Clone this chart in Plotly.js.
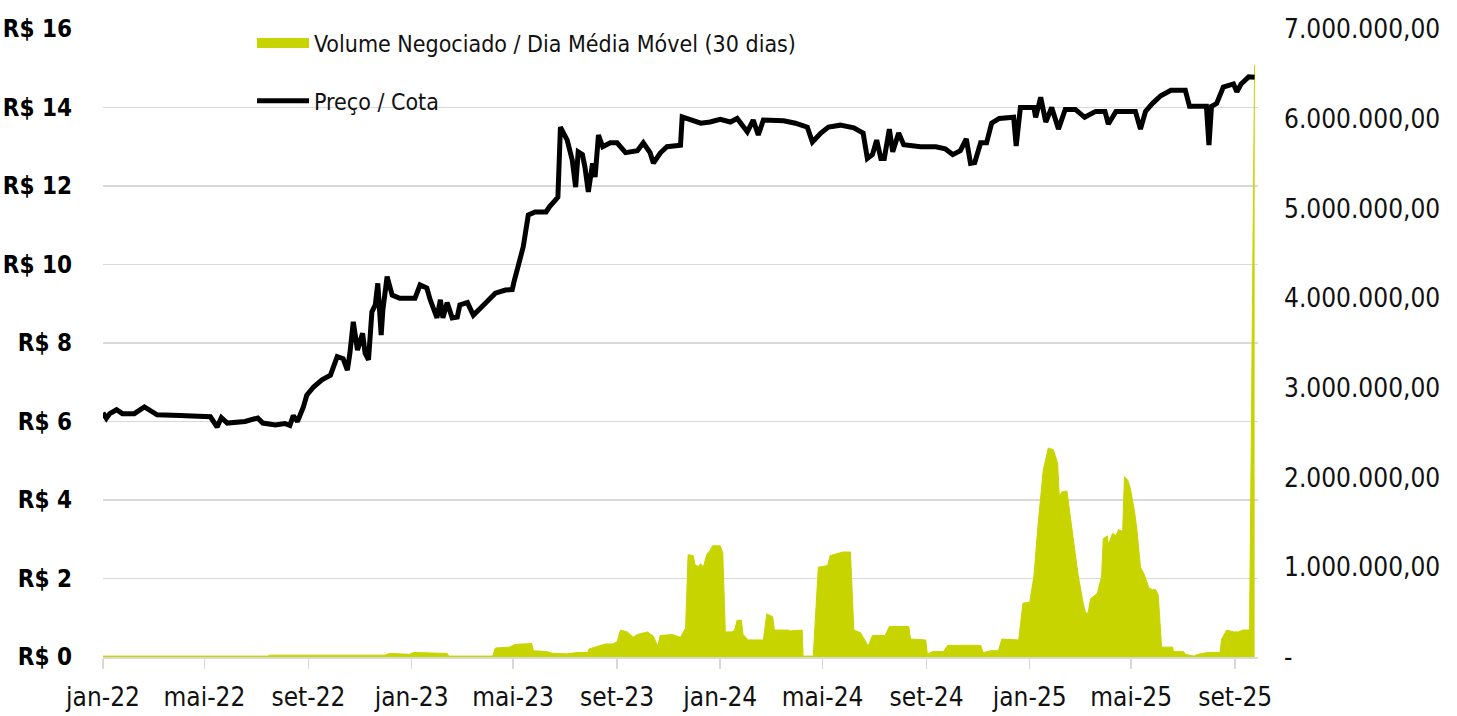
<!DOCTYPE html>
<html>
<head>
<meta charset="utf-8">
<script src="https://cdn.plot.ly/plotly-3.0.1.min.js"></script>
<style>
  html, body { margin: 0; padding: 0; background: #ffffff; }
  #chart { width: 1457px; height: 716px; }
</style>
</head>
<body>
<div id="chart"></div>
<script>
// ---- Data ----
const priceName = "Preço / Cota";
const volumeName = "Volume Negociado / Dia Média Móvel (30 dias)";

const priceDates = [
  "2022-01-01","2022-01-05","2022-01-09","2022-01-17","2022-01-24","2022-02-07","2022-02-19","2022-03-06",
  "2022-04-02","2022-05-08","2022-05-16","2022-05-21","2022-05-28","2022-06-18","2022-07-03","2022-07-09",
  "2022-07-24","2022-08-04","2022-08-10","2022-08-14","2022-08-19","2022-08-26","2022-08-30","2022-09-07",
  "2022-09-17","2022-09-27","2022-10-05","2022-10-12","2022-10-17","2022-10-20","2022-10-24","2022-10-29",
  "2022-11-04","2022-11-07","2022-11-11","2022-11-15","2022-11-19","2022-11-22","2022-11-26","2022-11-28",
  "2022-12-03","2022-12-09","2022-12-18","2023-01-05","2023-01-11","2023-01-19","2023-01-23","2023-01-31",
  "2023-02-04","2023-02-07","2023-02-12","2023-02-18","2023-02-24","2023-02-27","2023-03-08","2023-03-15",
  "2023-03-23","2023-03-31","2023-04-10","2023-04-22","2023-04-30","2023-05-02","2023-05-07","2023-05-13",
  "2023-05-19","2023-05-27","2023-06-09","2023-06-13","2023-06-20","2023-06-23","2023-06-26","2023-07-04",
  "2023-07-10","2023-07-14","2023-07-17","2023-07-22","2023-07-25","2023-07-29","2023-08-03","2023-08-06",
  "2023-08-10","2023-08-15","2023-08-24","2023-09-01","2023-09-11","2023-09-25","2023-10-02","2023-10-10",
  "2023-10-14","2023-10-22","2023-10-30","2023-11-15","2023-11-17","2023-11-27","2023-12-09","2023-12-20",
  "2024-01-01","2024-01-13","2024-01-21","2024-02-02","2024-02-09","2024-02-15","2024-02-21","2024-03-16",
  "2024-03-30","2024-04-13","2024-04-19","2024-04-29","2024-05-08","2024-05-22","2024-06-07","2024-06-18",
  "2024-06-23","2024-06-29","2024-07-04","2024-07-09","2024-07-13","2024-07-19","2024-07-23","2024-07-30",
  "2024-08-05","2024-08-25","2024-09-12","2024-09-23","2024-10-02","2024-10-11","2024-10-18","2024-10-23",
  "2024-10-28","2024-11-04","2024-11-11","2024-11-17","2024-11-26","2024-12-13","2024-12-16","2024-12-21",
  "2025-01-06","2025-01-08","2025-01-14","2025-01-20","2025-01-27","2025-02-04","2025-02-12","2025-02-24",
  "2025-03-07","2025-03-20","2025-03-31","2025-04-04","2025-04-13","2025-05-06","2025-05-12","2025-05-18",
  "2025-05-26","2025-06-05","2025-06-17","2025-07-04","2025-07-09","2025-07-29","2025-08-01","2025-08-04",
  "2025-08-10","2025-08-18","2025-08-30","2025-09-03","2025-09-08","2025-09-17","2025-09-24"
];
const priceValues = [
  6.22,6.08,6.20,6.30,6.20,6.20,6.37,6.17,
  6.15,6.12,5.86,6.10,5.96,6.00,6.09,5.96,
  5.91,5.95,5.90,6.15,6.00,6.37,6.67,6.88,
  7.06,7.18,7.65,7.60,7.31,7.74,8.54,7.82,
  8.25,7.74,7.57,8.79,8.97,9.52,8.20,8.84,
  9.69,9.22,9.14,9.14,9.48,9.40,9.10,8.64,
  9.10,8.64,9.03,8.64,8.66,8.97,9.03,8.71,
  8.88,9.05,9.27,9.35,9.36,9.55,9.94,10.45,
  11.26,11.34,11.34,11.47,11.64,11.72,13.50,13.17,
  12.66,11.97,12.87,12.80,12.48,11.85,12.58,12.23,
  13.30,13.00,13.10,13.10,12.85,12.90,13.10,12.85,
  12.58,12.84,13.00,13.04,13.76,13.68,13.60,13.63,
  13.70,13.63,13.72,13.38,13.68,13.30,13.68,13.66,
  13.60,13.50,13.12,13.35,13.50,13.55,13.48,13.35,
  12.70,12.80,13.17,12.70,12.70,13.45,12.87,13.35,
  13.05,13.00,13.00,12.95,12.80,12.90,13.20,12.58,
  12.60,13.10,13.10,13.60,13.72,13.75,13.02,14.00,
  14.00,13.75,14.26,13.63,14.00,13.45,13.95,13.95,
  13.75,13.90,13.90,13.58,13.90,13.90,13.45,13.90,
  14.10,14.30,14.44,14.44,14.03,14.03,13.04,14.03,
  14.10,14.52,14.60,14.40,14.60,14.78,14.77
];

const volumeDates = [
  "2022-01-01","2022-07-15","2022-07-18","2022-11-30","2022-12-06","2022-12-30","2023-01-03","2023-02-12",
  "2023-02-14","2023-04-07","2023-04-10","2023-04-27","2023-05-03","2023-05-17","2023-05-23","2023-05-25",
  "2023-06-10","2023-06-17","2023-07-04","2023-07-16","2023-07-28","2023-07-30","2023-08-09","2023-08-18",
  "2023-08-27","2023-09-01","2023-09-05","2023-09-13","2023-09-20","2023-09-25","2023-10-07","2023-10-14",
  "2023-10-19","2023-10-22","2023-11-05","2023-11-12","2023-11-15","2023-11-21","2023-11-24","2023-11-30",
  "2023-12-02","2023-12-06","2023-12-09","2023-12-12","2023-12-16","2023-12-20","2023-12-23","2024-01-01",
  "2024-01-04","2024-01-07","2024-01-15","2024-01-18","2024-01-21","2024-01-26","2024-01-28","2024-02-03",
  "2024-02-21","2024-02-25","2024-03-03","2024-03-05","2024-03-21","2024-03-24","2024-04-07","2024-04-08",
  "2024-04-20","2024-04-26","2024-05-07","2024-05-10","2024-05-25","2024-06-03","2024-06-07","2024-06-15",
  "2024-06-18","2024-06-24","2024-06-29","2024-07-14","2024-07-19","2024-08-11","2024-08-13","2024-08-31",
  "2024-09-02","2024-09-08","2024-09-21","2024-09-26","2024-11-04","2024-11-07","2024-11-16","2024-11-25",
  "2024-11-29","2024-12-19","2024-12-24","2025-01-01","2025-01-06","2025-01-11","2025-01-17","2025-01-23",
  "2025-01-29","2025-02-03","2025-02-05","2025-02-08","2025-02-14","2025-02-18","2025-02-24","2025-02-27",
  "2025-03-05","2025-03-08","2025-03-11","2025-03-14","2025-03-22","2025-03-27","2025-03-29","2025-04-03",
  "2025-04-04","2025-04-09","2025-04-13","2025-04-16","2025-04-21","2025-04-23","2025-04-27","2025-04-30",
  "2025-05-05","2025-05-08","2025-05-12","2025-05-16","2025-05-22","2025-05-26","2025-05-30","2025-06-02",
  "2025-06-06","2025-06-19","2025-06-20","2025-07-02","2025-07-04","2025-07-14","2025-07-19","2025-07-31",
  "2025-08-14","2025-08-16","2025-08-22","2025-08-30","2025-09-05","2025-09-10","2025-09-18","2025-09-24"
];
const volumeValues = [
  10000,10000,20000,20000,40000,30000,50000,40000,
  10000,10000,100000,110000,140000,150000,150000,70000,
  60000,40000,35000,50000,50000,90000,120000,145000,
  145000,170000,300000,280000,220000,250000,280000,230000,
  120000,240000,250000,230000,220000,320000,1140000,1130000,
  1030000,1010000,1040000,1000000,1140000,1190000,1240000,1240000,
  1160000,280000,280000,300000,410000,410000,250000,190000,
  190000,480000,450000,300000,300000,290000,300000,10000,
  10000,1000000,1020000,1130000,1170000,1170000,300000,270000,
  220000,120000,240000,240000,340000,340000,200000,190000,
  30000,60000,60000,130000,130000,50000,70000,70000,
  200000,190000,600000,610000,900000,1490000,2080000,2330000,
  2310000,2160000,1790000,1840000,1850000,1560000,1120000,930000,
  610000,490000,490000,650000,710000,900000,1320000,1350000,
  1250000,1380000,1350000,1420000,1400000,2010000,1970000,1880000,
  1620000,1400000,1000000,930000,770000,750000,750000,690000,
  110000,110000,60000,60000,30000,10000,30000,50000,
  50000,200000,300000,280000,280000,300000,300000,6600000
];

// Tick labels
const xTickVals = ["2022-01-01","2022-05-01","2022-09-01","2023-01-01","2023-05-01","2023-09-01",
                   "2024-01-01","2024-05-01","2024-09-01","2025-01-01","2025-05-01","2025-09-01"];
const xTickText = ["jan-22","mai-22","set-22","jan-23","mai-23","set-23",
                   "jan-24","mai-24","set-24","jan-25","mai-25","set-25"];
const priceTickVals = [0,2,4,6,8,10,12,14,16];
const priceTickText = ["R$ 0","R$ 2","R$ 4","R$ 6","R$ 8","R$ 10","R$ 12","R$ 14","R$ 16"];
const volTickVals = [0,1000000,2000000,3000000,4000000,5000000,6000000,7000000];
const volTickText = ["-","1.000.000,00","2.000.000,00","3.000.000,00","4.000.000,00",
                     "5.000.000,00","6.000.000,00","7.000.000,00"];

// ---- Styling ----
const FONT = '"DejaVu Sans Condensed", "Liberation Sans Narrow", sans-serif';
const GREEN = "#c8d400";
const GRID = "#d9d9d9";

const traces = [
  {
    type: "scatter",
    mode: "lines",
    name: volumeName,
    x: volumeDates,
    y: volumeValues,
    yaxis: "y",
    fill: "tozeroy",
    fillcolor: GREEN,
    line: { color: GREEN, width: 1 },
    showlegend: false,
    hoverinfo: "x+y"
  },
  {
    // legend entry for the volume area (draws nothing in the plot)
    type: "scatter",
    mode: "lines",
    name: volumeName,
    x: [null],
    y: [null],
    yaxis: "y",
    line: { color: GREEN, width: 17 },
    legendgroup: "vol",
    hoverinfo: "skip"
  },
  {
    type: "scatter",
    mode: "lines",
    name: priceName,
    x: priceDates,
    y: priceValues,
    yaxis: "y2",
    line: { color: "#000000", width: 5, shape: "linear" },
    legendgroup: "price",
    hoverinfo: "x+y"
  }
];

const layout = {
  width: 1457,
  height: 716,
  margin: { l: 103, r: 199, t: 29, b: 59, pad: 0 },
  paper_bgcolor: "#ffffff",
  plot_bgcolor: "#ffffff",
  font: { family: FONT, color: "#111111", size: 23 },
  showlegend: true,
  legend: {
    x: 0.129, y: 1.012, xanchor: "left", yanchor: "top",
    bgcolor: "rgba(0,0,0,0)",
    font: { family: FONT, size: 23, color: "#111111" },
    traceorder: "grouped",
    tracegroupgap: 25,
    itemwidth: 52
  },
  xaxis: {
    type: "date",
    range: ["2022-01-01", "2025-09-28"],
    tickmode: "array",
    tickvals: xTickVals,
    ticktext: xTickText,
    showgrid: false,
    zeroline: false,
    showline: true,
    linecolor: GRID,
    linewidth: 2,
    ticks: "outside",
    ticklen: 10,
    tickwidth: 1.5,
    tickcolor: GRID,
    ticklabelstandoff: 6,
    tickfont: { family: FONT, size: 26, color: "#111111" }
  },
  yaxis: {
    side: "right",
    range: [0, 7000000],
    tickmode: "array",
    tickvals: volTickVals,
    ticktext: volTickText,
    showgrid: false,
    zeroline: false,
    showline: false,
    ticks: "",
    ticklabelstandoff: 25,
    tickfont: { family: FONT, size: 26, color: "#111111" }
  },
  yaxis2: {
    overlaying: "y",
    side: "left",
    range: [0, 16],
    tickmode: "array",
    tickvals: priceTickVals,
    ticktext: priceTickText,
    showgrid: true,
    gridcolor: GRID,
    gridwidth: 1.5,
    zeroline: false,
    showline: false,
    ticks: "",
    ticklabelstandoff: 30,
    tickfont: { family: FONT, size: 24, color: "#000000", weight: 700 }
  }
};

Plotly.newPlot("chart", traces, layout, { displayModeBar: false, responsive: false, staticPlot: true });
</script>
</body>
</html>
